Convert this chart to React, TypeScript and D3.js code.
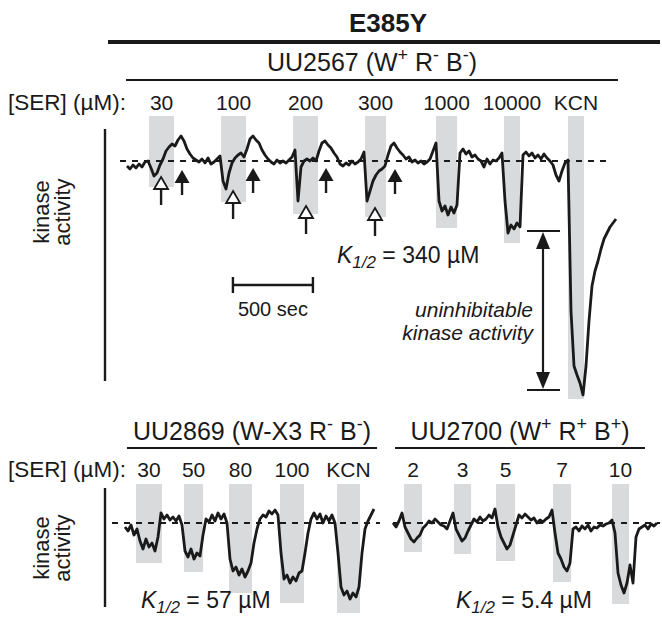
import React, { useEffect, useRef } from 'react';
import * as d3 from 'd3';

// recording: one sample every 18.75 s, 500 sec scale bar = 80 px
const SAMPLE_SEC = 18.75;
const SEC_PER_PX = 6.25;

// ---- E385Y / UU2567 (W+ R- B-) ----
const topLabels = ['30', '100', '200', '300', '1000', '10000', 'KCN'];
const topBarStart = [138, 588, 1038, 1488, 1931, 2356, 2756];
const topBarEnd = [294, 744, 1194, 1619, 2063, 2456, 2856];
const topBarDepth = [-26, -41, -53, -56, -67, -82, -238];
const topTrace = [
  -5, -8, -4, -7, -3, -6, -1, 0, -7, -15, -12, -4, 2, 10, 14, 17, 15, 21, 25, 20,
  12, 7, 3, 1, -1, 2, -2, 3, -3, -1, 2, 5, -20, -28, -12, -2, 3, 6, 8, 4,
  12, 22, 25, 21, 18, 11, 6, 2, -1, -3, 1, -2, 0, -2, 1, 4, 11, -40, -6, 0,
  2, 0, 3, 0, 10, 18, 20, 16, 13, 8, 4, -3, -5, -2, -4, 0, -3, -1, 2, 9,
  -40, -30, -20, -14, -10, -8, -5, 6, 15, 18, 13, 9, 6, 2, 4, -1, 1, -2, 0, -3,
  -1, 2, 10, 18, -40, -50, -45, -54, -46, -52, -44, 8, 12, 7, 10, 4, 6, 2, 0, -6,
  2, -3, 1, 0, 3, 8, -40, -72, -64, -68, -62, -66, 6, 9, 5, 8, 3, 6, 2, 7,
  3, 0, -4, -14, -20, -10, -2, 1, -150, -205, -214, -222, -234, -205, -160, -125, -110, -100, -88, -78,
  -72, -66, -62, -58,
];
// open arrows: serine added; filled arrows: serine removed
const openArrowTime = [213, 663, 1119, 1550];
const openArrowTip = [-16, -30, -45, -47];
const filledArrowTime = [344, 788, 1244, 1675];
const filledArrowTip = [-9, -7, -7, -8];
// max serine inhibition vs. KCN floor
const uninhibitable = [-70, -229];
const uninhibitableTime = 2600;
const scaleBarTime = [662, 1162];

// ---- UU2869 (W-X3 R- B-) ----
const leftLabels = ['30', '50', '80', '100', 'KCN'];
const leftBarStart = [69, 369, 650, 969, 1325];
const leftBarEnd = [231, 488, 794, 1119, 1469];
const leftBarDepth = [-40, -49, -70, -80, -90];
const leftTrace = [
  -4, -8, -2, -12, -6, -18, -26, -16, -24, -20, -28, -14, 10, 4, 8, 3, 6, 2, 7, -2,
  -28, -34, -26, -36, -30, -33, -12, 4, 1, 8, 2, 10, 4, 9, 0, -36, -48, -44, -52, -46,
  -54, -48, -40, -20, -6, 4, 8, 6, 12, 9, 13, 8, -30, -56, -52, -60, -54, -58, -50, -48,
  -30, -10, 4, 10, 4, 9, 0, 7, 2, 8, 0, -30, -64, -72, -68, -76, -70, -74, -64, -30,
  -6, 2, 8, 14,
];

// ---- UU2700 (W+ R+ B+) ----
const rightLabels = ['2', '3', '5', '7', '10'];
const rightBarStart = [69, 381, 644, 1000, 1369];
const rightBarEnd = [181, 488, 763, 1113, 1475];
const rightBarDepth = [-29, -31, -38, -59, -81];
const rightTrace = [
  0, -4, 2, 10, -4, -10, -16, -19, -15, -12, -5, -2, 2, 0, 4, 1, -2, -3, -6, 2,
  10, -6, -12, -18, -15, -8, -2, 4, 1, 6, 2, 4, 8, 5, 14, -4, -14, -20, -26, -22,
  -12, -2, 8, 5, 9, 6, 3, 5, 0, 3, 1, 4, 6, 13, -10, -30, -36, -44, -48, -40,
  -6, -4, -8, -3, -6, -2, -8, -4, -5, -2, -3, -1, 0, 3, -10, -50, -62, -70, -60, -42,
  -60, -14, -6, -4, -2, -6, -1, -3, 0,
];

interface Panel {
  x0: number;
  y0: number;
  barTop: number;
  dash: [number, number];
  labelY: number;
  labels: string[];
  barStart: number[];
  barEnd: number[];
  barDepth: number[];
  trace: number[];
}

const FONT = '"Liberation Sans", Arial, Helvetica, sans-serif';
const INK = '#1a1a1a';

const App: React.FC = () => {
  const svgRef = useRef<SVGSVGElement>(null);

  useEffect(() => {
    if (!svgRef.current) return;
    const svg = d3.select(svgRef.current);
    svg.selectAll('*').remove();
    svg.attr('font-family', FONT);

    const makeScales = (p: { x0: number; y0: number }) => {
      const x = d3.scaleLinear().domain([0, 500]).range([p.x0, p.x0 + 500 / SEC_PER_PX]);
      const y = d3.scaleLinear().domain([-250, 50]).range([p.y0 + 250, p.y0 - 50]);
      return { x, y };
    };

    const drawPanel = (p: Panel) => {
      const { x, y } = makeScales(p);
      const g = svg.append('g');

      g.selectAll('rect')
        .data(p.labels)
        .join('rect')
        .attr('x', (_d, i) => x(p.barStart[i]))
        .attr('width', (_d, i) => x(p.barEnd[i]) - x(p.barStart[i]))
        .attr('y', y(p.barTop))
        .attr('height', (_d, i) => y(p.barDepth[i]) - y(p.barTop))
        .attr('fill', '#d9dadb');

      g.append('line')
        .attr('x1', p.dash[0]).attr('x2', p.dash[1])
        .attr('y1', y(0)).attr('y2', y(0))
        .attr('stroke', INK).attr('stroke-width', 2)
        .attr('stroke-dasharray', '6,6');

      const line = d3.line<number>()
        .x((_d, i) => x(i * SAMPLE_SEC))
        .y(d => y(d));
      g.append('path')
        .datum(p.trace)
        .attr('d', line)
        .attr('fill', 'none')
        .attr('stroke', INK)
        .attr('stroke-width', 2.8)
        .attr('stroke-linejoin', 'round');

      g.selectAll('text.conc')
        .data(p.labels)
        .join('text')
        .attr('class', 'conc')
        .attr('x', (_d, i) => x((p.barStart[i] + p.barEnd[i]) / 2))
        .attr('y', p.labelY)
        .attr('text-anchor', 'middle')
        .attr('font-size', 21)
        .attr('fill', INK)
        .text(d => d);

      return { x, y };
    };

    // strain title with superscripts
    const title = (cx: number, by: number, parts: [string, string][]) => {
      const t = svg.append('text')
        .attr('x', cx).attr('y', by)
        .attr('text-anchor', 'middle')
        .attr('font-size', 25)
        .attr('fill', INK);
      parts.forEach(([s, kind]) => {
        const ts = t.append('tspan').text(s);
        if (kind === 'sup') ts.attr('font-size', 18).attr('dy', -10);
        if (kind === 'back') ts.attr('dy', 10);
      });
    };

    const kHalf = (x0: number, by: number, rest: string) => {
      const t = svg.append('text').attr('x', x0).attr('y', by).attr('font-size', 23).attr('fill', INK);
      t.append('tspan').attr('font-style', 'italic').text('K');
      t.append('tspan').attr('font-style', 'italic').attr('font-size', 17).attr('dy', 5).text('1/2');
      t.append('tspan').attr('dy', -5).text(' = ' + rest);
    };

    const serLabel = (by: number) => {
      svg.append('text').attr('x', 8).attr('y', by).attr('font-size', 22.5).attr('fill', INK)
        .text('[SER] (µM):');
    };

    const yAxisLabel = (cx: number, cy: number) => {
      const t = svg.append('text')
        .attr('transform', `translate(${cx},${cy}) rotate(-90)`)
        .attr('text-anchor', 'middle')
        .attr('font-size', 22)
        .attr('fill', INK);
      t.append('tspan').attr('x', 0).attr('y', 0).text('kinase');
      t.append('tspan').attr('x', 0).attr('y', 21).text('activity');
    };

    const vLine = (xx: number, y1: number, y2: number, w = 2.4) => {
      svg.append('line').attr('x1', xx).attr('x2', xx).attr('y1', y1).attr('y2', y2)
        .attr('stroke', INK).attr('stroke-width', w);
    };
    const hLine = (x1: number, x2: number, yy: number, w = 1.8) => {
      svg.append('line').attr('x1', x1).attr('x2', x2).attr('y1', yy).attr('y2', yy)
        .attr('stroke', INK).attr('stroke-width', w);
    };

    // ---- header ----
    svg.append('text')
      .attr('x', 388).attr('y', 32)
      .attr('text-anchor', 'middle')
      .attr('font-size', 26).attr('font-weight', 'bold').attr('fill', INK)
      .text('E385Y');
    hLine(108, 660, 42, 4);

    title(372, 71, [['UU2567 (W', ''], ['+', 'sup'], [' R', 'back'], ['-', 'sup'], [' B', 'back'], ['-', 'sup'], [')', 'back']]);
    hLine(126, 618, 80);
    serLabel(110);

    // ---- top panel ----
    const top = drawPanel({
      x0: 127, y0: 161, barTop: 45, dash: [120, 612], labelY: 110,
      labels: topLabels, barStart: topBarStart, barEnd: topBarEnd, barDepth: topBarDepth, trace: topTrace,
    });
    vLine(105, 129, 381);
    yAxisLabel(49, 212);

    // arrows
    openArrowTime.forEach((t, i) => {
      const cx = top.x(t);
      const ty = top.y(openArrowTip[i]);
      vLine(cx, ty + 12, ty + 28, 2.4);
      svg.append('path')
        .attr('d', `M${cx},${ty} L${cx + 7},${ty + 12} L${cx - 7},${ty + 12} Z`)
        .attr('fill', '#fff').attr('stroke', INK).attr('stroke-width', 1.8).attr('stroke-linejoin', 'miter');
    });
    filledArrowTime.forEach((t, i) => {
      const cx = top.x(t);
      const ty = top.y(filledArrowTip[i]);
      vLine(cx, ty + 10, ty + 25, 2.4);
      svg.append('path')
        .attr('d', `M${cx},${ty} L${cx + 7.5},${ty + 13} L${cx - 7.5},${ty + 13} Z`)
        .attr('fill', INK);
    });

    // uninhibitable activity bracket
    const ax = top.x(uninhibitableTime);
    const yTop = top.y(uninhibitable[0]);
    const yBot = top.y(uninhibitable[1]);
    hLine(ax - 16, ax + 17, yTop, 2.2);
    hLine(ax - 16, ax + 17, yBot, 2.2);
    vLine(ax, yTop + 12, yBot - 12, 2.2);
    svg.append('path').attr('d', `M${ax},${yTop + 1} L${ax + 7},${yTop + 18} L${ax - 7},${yTop + 18} Z`).attr('fill', INK);
    svg.append('path').attr('d', `M${ax},${yBot - 1} L${ax + 7},${yBot - 18} L${ax - 7},${yBot - 18} Z`).attr('fill', INK);
    svg.append('text').attr('x', 533).attr('y', 317).attr('text-anchor', 'end')
      .attr('font-size', 21).attr('font-style', 'italic').attr('fill', INK).text('uninhibitable');
    svg.append('text').attr('x', 533).attr('y', 340).attr('text-anchor', 'end')
      .attr('font-size', 21).attr('font-style', 'italic').attr('fill', INK).text('kinase activity');

    kHalf(337, 263, '340 µM');

    // scale bar
    const sb0 = top.x(scaleBarTime[0]);
    const sb1 = top.x(scaleBarTime[1]);
    hLine(sb0, sb1, 285, 2.4);
    vLine(sb0, 277, 293);
    vLine(sb1, 277, 293);
    svg.append('text').attr('x', (sb0 + sb1) / 2).attr('y', 316).attr('text-anchor', 'middle')
      .attr('font-size', 20).attr('fill', INK).text('500 sec');

    // ---- bottom panels ----
    title(252, 440, [['UU2869 (W-X3 R', ''], ['-', 'sup'], [' B', 'back'], ['-', 'sup'], [')', 'back']]);
    hLine(127, 377, 448);
    title(520, 440, [['UU2700 (W', ''], ['+', 'sup'], [' R', 'back'], ['+', 'sup'], [' B', 'back'], ['+', 'sup'], [')', 'back']]);
    hLine(395, 645, 448);
    serLabel(477);

    drawPanel({
      x0: 125, y0: 523, barTop: 39, dash: [112, 380], labelY: 477,
      labels: leftLabels, barStart: leftBarStart, barEnd: leftBarEnd, barDepth: leftBarDepth, trace: leftTrace,
    });
    drawPanel({
      x0: 393, y0: 523, barTop: 39, dash: [393, 660], labelY: 477,
      labels: rightLabels, barStart: rightBarStart, barEnd: rightBarEnd, barDepth: rightBarDepth, trace: rightTrace,
    });
    vLine(105, 488, 607);
    yAxisLabel(49, 548);

    kHalf(141, 608, '57 µM');
    kHalf(456, 608, '5.4 µM');
  }, []);

  return (
    <svg
      ref={svgRef}
      width={662}
      height={619}
      style={{ position: 'absolute', left: 0, top: 0, background: '#fff' }}
    />
  );
};

export default App;
